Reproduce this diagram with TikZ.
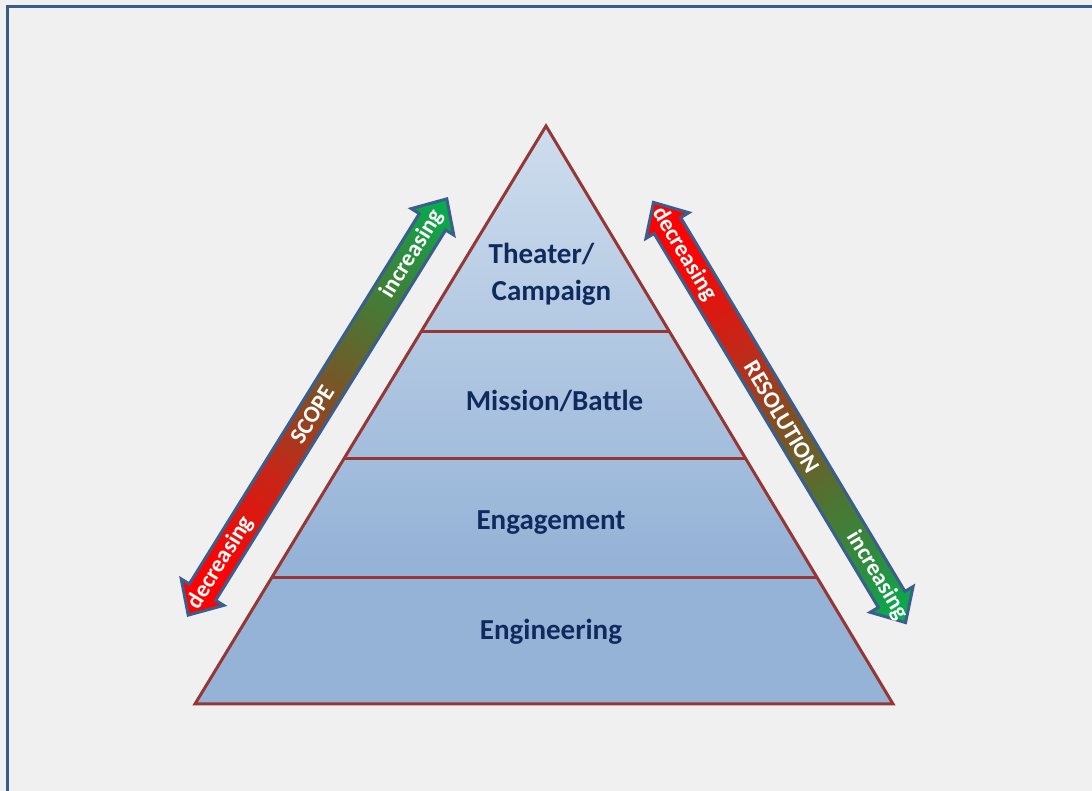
\documentclass[tikz,border=0pt]{standalone}
\usepackage{fontspec}
\setmainfont{Carlito}
\usetikzlibrary{calc}
\definecolor{bg}{RGB}{240,240,240}
\definecolor{framecol}{RGB}{56,93,138}
\definecolor{pyrline}{RGB}{149,55,53}
\definecolor{navy}{RGB}{16,42,94}
\definecolor{arrline}{RGB}{58,95,140}
\definecolor{pyrtop}{RGB}{206,221,237}
\definecolor{pyrbot}{RGB}{149,179,215}
\definecolor{ac0}{RGB}{255,0,0}
\definecolor{ac1}{RGB}{250,5,5}
\definecolor{ac2}{RGB}{195,40,25}
\definecolor{ac3}{RGB}{135,75,35}
\definecolor{ac4}{RGB}{80,115,50}
\definecolor{ac5}{RGB}{40,145,65}
\definecolor{ac6}{RGB}{0,176,80}
\pgfdeclareverticalshading{pyrshade}{100bp}{color(0bp)=(pyrbot); color(37.5bp)=(pyrbot); color(75bp)=(pyrtop); color(100bp)=(pyrtop)}
\pgfdeclarehorizontalshading{arrshade}{100bp}{color(0bp)=(ac0); color(25bp)=(ac0); color(31bp)=(ac1); color(42.5bp)=(ac2); color(50bp)=(ac3); color(60bp)=(ac4); color(69bp)=(ac5); color(75bp)=(ac6); color(100bp)=(ac6)}
\tikzset{
  pyrtext/.style={text=navy, font=\bfseries\fontsize{29}{34}\selectfont, anchor=base, inner sep=0pt},
  arrtext/.style={text=white, font=\bfseries\fontsize{23.5}{27}\selectfont, inner sep=0pt},
  arrowbody/.style={shade, shading=arrshade, draw=arrline, line width=3pt, line join=miter},
  pyredge/.style={draw=pyrline, line width=3pt, line join=miter},
  divider/.style={draw=pyrline, line width=3pt},
}
\begin{document}
\begin{tikzpicture}[x=1pt, y=1pt]
\useasboundingbox (0,0) rectangle (1092,791);
\clip (0,0) rectangle (1092,791);
\fill[bg] (0,0) rectangle (1092,791);
\draw[framecol, line width=3pt] (7.5,-20) rectangle (1120,784.5);
% pyramid
\coordinate (apex) at (546,665);
\coordinate (bl) at (195,87);
\coordinate (br) at (893,87);
\path[shade, shading=pyrshade] (apex) -- (bl) -- (br) -- cycle;
\coordinate (d1l) at ($(apex)!0.3564!(bl)$);
\coordinate (d1r) at ($(apex)!0.3564!(br)$);
\coordinate (d2l) at ($(apex)!0.5761!(bl)$);
\coordinate (d2r) at ($(apex)!0.5761!(br)$);
\coordinate (d3l) at ($(apex)!0.7803!(bl)$);
\coordinate (d3r) at ($(apex)!0.7803!(br)$);
\draw[divider] (d1l) -- (d1r);
\draw[divider] (d2l) -- (d2r);
\draw[divider] (d3l) -- (d3r);
\draw[pyredge] (apex) -- (bl) -- (br) -- cycle;
\node[pyrtext] (theater) at (541.5,527) {Theater/};
\node[pyrtext] (campaign) at (551.5,490.5) {Campaign};
\node[pyrtext] (mission) at (554.5,380) {Mission/Battle};
\node[pyrtext] (engagement) at (551,261.5) {Engagement};
\node[pyrtext] (engineering) at (551,151) {Engineering};
% arrows
\coordinate (B1) at (187,174);
\coordinate (T1) at (448,594);
\coordinate (T2) at (652,591);
\coordinate (B2) at (907,166);
\begin{scope}[transform canvas={shift={($(B1)!0.5!(T1)$)}, rotate=58.15}]
  \path[arrowbody] (-245,0) -- (-218,25) -- (-218,15.5) -- (218,15.5) -- (218,25) -- (245,0) -- (218,-25) -- (218,-15.5) -- (-218,-15.5) -- (-218,-25) -- cycle;
\end{scope}
\begin{scope}[transform canvas={shift={($(T2)!0.5!(B2)$)}, rotate=-59.04}]
  \path[arrowbody] (-245,0) -- (-218,25) -- (-218,15.5) -- (218,15.5) -- (218,25) -- (245,0) -- (218,-25) -- (218,-15.5) -- (-218,-15.5) -- (-218,-25) -- cycle;
\end{scope}
\node[arrtext, rotate=58.15] (scdec) at ($(B1)!0.129!(T1)$) {decreasing};
\node[arrtext, rotate=58.15] (scope) at ($(B1)!0.481!(T1)$) {SCOPE};
\node[arrtext, rotate=58.15] (scinc) at ($(B1)!0.864!(T1)$) {increasing};
\node[arrtext, rotate=-59.04] (resdec) at ($(T2)!0.127!(B2)$) {decreasing};
\node[arrtext, rotate=-59.04] (res) at ($(T2)!0.51!(B2)$) {RESOLUTION};
\node[arrtext, rotate=-59.04] (resinc) at ($(T2)!0.884!(B2)$) {increasing};
\end{tikzpicture}
\end{document}
